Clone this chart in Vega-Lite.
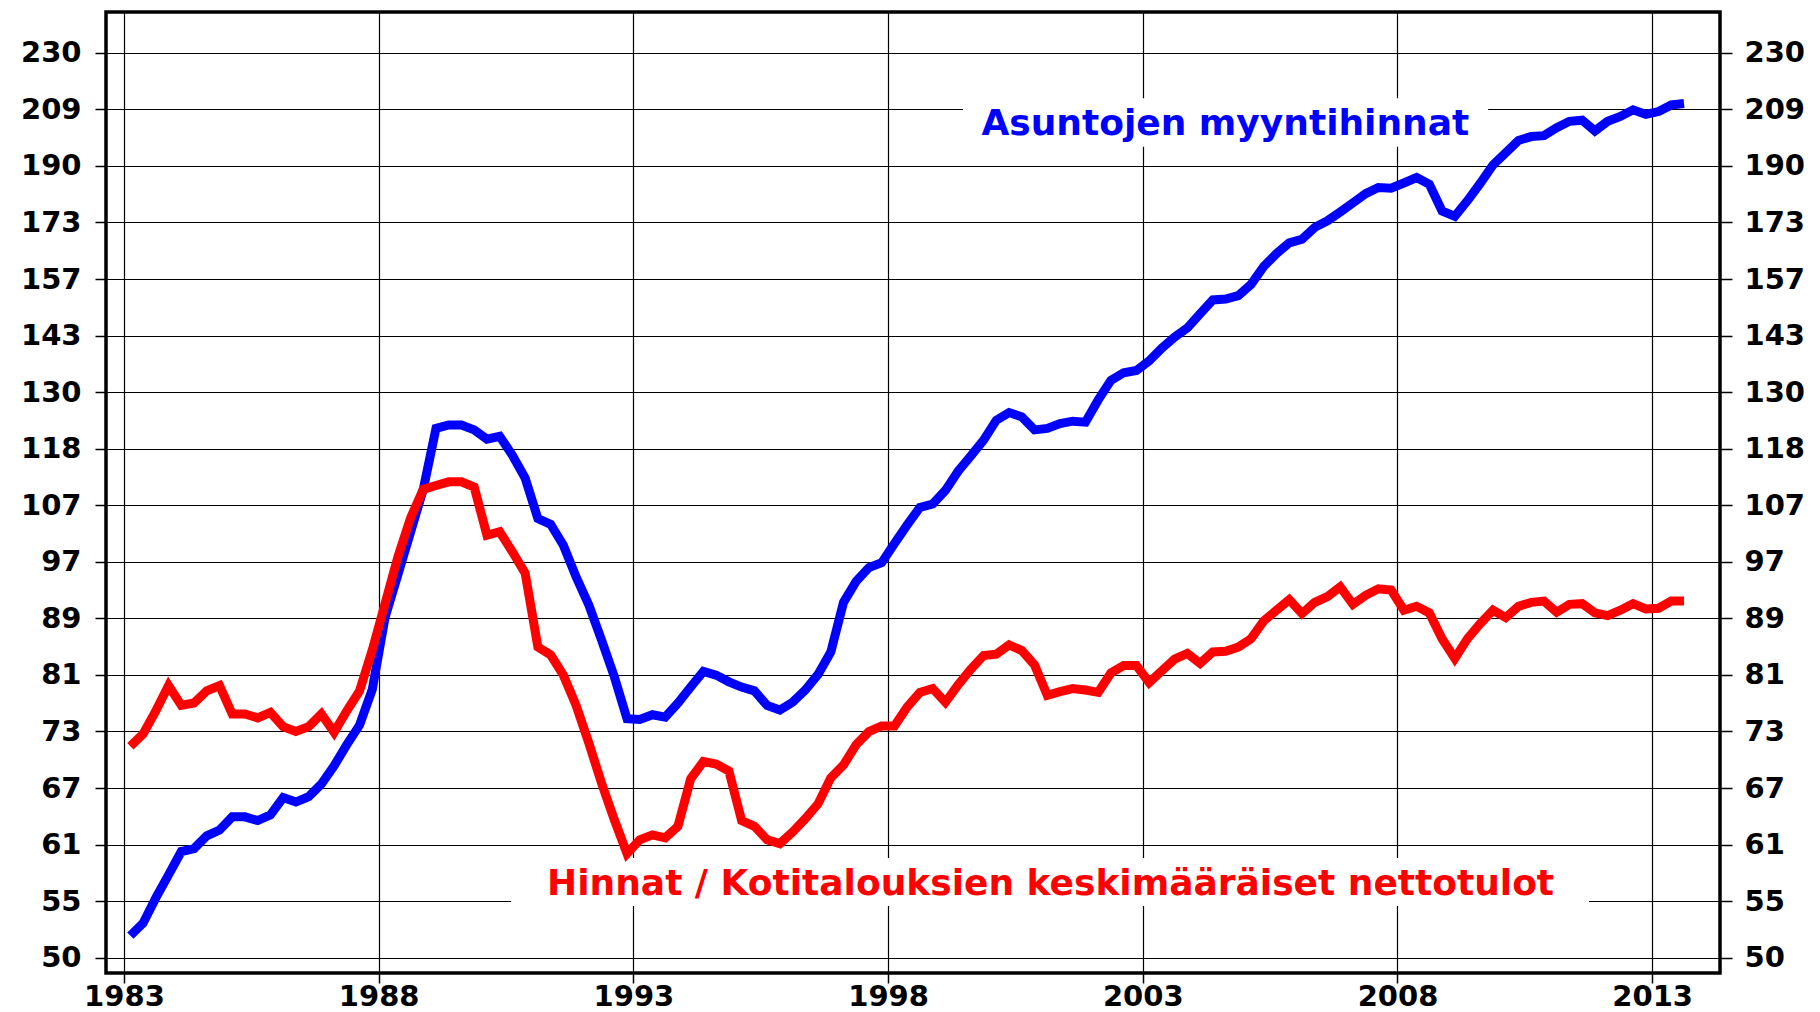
{
  "$schema": "https://vega.github.io/schema/vega-lite/v6.json",
  "width": 1614,
  "height": 961,
  "autosize": {"type": "none"},
  "padding": {"left": 106, "top": 12, "right": 100, "bottom": 39},
  "background": "white",
  "config": {
    "view": {"stroke": "#000000", "strokeWidth": 3.5},
    "font": "DejaVu Sans",
    "axis": {
      "domain": false,
      "gridColor": "#000000",
      "gridWidth": 1.2,
      "gridOpacity": 1,
      "tickColor": "#000000",
      "tickWidth": 1.5,
      "labelColor": "#000000",
      "labelFont": "DejaVu Sans",
      "labelFontSize": 29,
      "labelFontWeight": "bold",
      "labelOverlap": false,
      "labelFlush": false,
      "labelBound": false
    }
  },
  "datasets": {
    "hinnat": [
      {"t": 1983.125, "myynti": 51.9, "suhde": 71.4},
      {"t": 1983.375, "myynti": 53.0, "suhde": 72.9},
      {"t": 1983.625, "myynti": 55.3, "suhde": 75.8},
      {"t": 1983.875, "myynti": 57.5, "suhde": 79.1},
      {"t": 1984.125, "myynti": 59.8, "suhde": 76.5},
      {"t": 1984.375, "myynti": 60.1, "suhde": 76.8},
      {"t": 1984.625, "myynti": 61.4, "suhde": 78.4},
      {"t": 1984.875, "myynti": 62.0, "suhde": 79.1},
      {"t": 1985.125, "myynti": 63.4, "suhde": 75.4},
      {"t": 1985.375, "myynti": 63.4, "suhde": 75.4},
      {"t": 1985.625, "myynti": 63.0, "suhde": 74.9},
      {"t": 1985.875, "myynti": 63.6, "suhde": 75.6},
      {"t": 1986.125, "myynti": 65.5, "suhde": 73.8},
      {"t": 1986.375, "myynti": 65.0, "suhde": 73.2},
      {"t": 1986.625, "myynti": 65.6, "suhde": 73.8},
      {"t": 1986.875, "myynti": 67.0, "suhde": 75.4},
      {"t": 1987.125, "myynti": 69.1, "suhde": 73.1},
      {"t": 1987.375, "myynti": 71.6, "suhde": 75.8},
      {"t": 1987.625, "myynti": 74.0, "suhde": 78.4},
      {"t": 1987.875, "myynti": 78.6, "suhde": 84.0},
      {"t": 1988.125, "myynti": 88.7, "suhde": 90.8},
      {"t": 1988.375, "myynti": 95.3, "suhde": 98.2},
      {"t": 1988.625, "myynti": 102.4, "suhde": 104.9},
      {"t": 1988.875, "myynti": 110.1, "suhde": 110.1},
      {"t": 1989.125, "myynti": 122.0, "suhde": 110.8},
      {"t": 1989.375, "myynti": 122.7, "suhde": 111.5},
      {"t": 1989.625, "myynti": 122.7, "suhde": 111.5},
      {"t": 1989.875, "myynti": 121.7, "suhde": 110.5},
      {"t": 1990.125, "myynti": 119.8, "suhde": 101.9},
      {"t": 1990.375, "myynti": 120.4, "suhde": 102.5},
      {"t": 1990.625, "myynti": 116.6, "suhde": 99.1},
      {"t": 1990.875, "myynti": 112.2, "suhde": 95.6},
      {"t": 1991.125, "myynti": 104.8, "suhde": 84.4},
      {"t": 1991.375, "myynti": 103.8, "suhde": 83.3},
      {"t": 1991.625, "myynti": 100.2, "suhde": 80.5},
      {"t": 1991.875, "myynti": 95.0, "suhde": 76.5},
      {"t": 1992.125, "myynti": 90.6, "suhde": 71.8},
      {"t": 1992.375, "myynti": 85.4, "suhde": 67.1},
      {"t": 1992.625, "myynti": 80.3, "suhde": 63.1},
      {"t": 1992.875, "myynti": 74.8, "suhde": 59.6},
      {"t": 1993.125, "myynti": 74.7, "suhde": 61.0},
      {"t": 1993.375, "myynti": 75.3, "suhde": 61.5},
      {"t": 1993.625, "myynti": 75.0, "suhde": 61.2},
      {"t": 1993.875, "myynti": 76.8, "suhde": 62.4},
      {"t": 1994.125, "myynti": 78.9, "suhde": 67.6},
      {"t": 1994.375, "myynti": 81.0, "suhde": 69.6},
      {"t": 1994.625, "myynti": 80.5, "suhde": 69.3},
      {"t": 1994.875, "myynti": 79.6, "suhde": 68.5},
      {"t": 1995.125, "myynti": 78.9, "suhde": 63.0},
      {"t": 1995.375, "myynti": 78.4, "suhde": 62.4},
      {"t": 1995.625, "myynti": 76.5, "suhde": 61.0},
      {"t": 1995.875, "myynti": 75.9, "suhde": 60.6},
      {"t": 1996.125, "myynti": 76.9, "suhde": 61.8},
      {"t": 1996.375, "myynti": 78.5, "suhde": 63.2},
      {"t": 1996.625, "myynti": 80.6, "suhde": 64.8},
      {"t": 1996.875, "myynti": 83.7, "suhde": 67.7},
      {"t": 1997.125, "myynti": 91.0, "suhde": 69.2},
      {"t": 1997.375, "myynti": 94.3, "suhde": 71.6},
      {"t": 1997.625, "myynti": 96.5, "suhde": 73.2},
      {"t": 1997.875, "myynti": 97.3, "suhde": 73.9},
      {"t": 1998.125, "myynti": 100.5, "suhde": 73.9},
      {"t": 1998.375, "myynti": 103.7, "suhde": 76.3},
      {"t": 1998.625, "myynti": 106.8, "suhde": 78.2},
      {"t": 1998.875, "myynti": 107.4, "suhde": 78.7},
      {"t": 1999.125, "myynti": 109.9, "suhde": 76.9},
      {"t": 1999.375, "myynti": 113.5, "suhde": 79.2},
      {"t": 1999.625, "myynti": 116.5, "suhde": 81.3},
      {"t": 1999.875, "myynti": 119.6, "suhde": 83.2},
      {"t": 2000.125, "myynti": 123.7, "suhde": 83.4},
      {"t": 2000.375, "myynti": 125.3, "suhde": 84.7},
      {"t": 2000.625, "myynti": 124.4, "suhde": 83.9},
      {"t": 2000.875, "myynti": 121.7, "suhde": 81.9},
      {"t": 2001.125, "myynti": 122.0, "suhde": 77.8},
      {"t": 2001.375, "myynti": 123.0, "suhde": 78.3},
      {"t": 2001.625, "myynti": 123.5, "suhde": 78.7},
      {"t": 2001.875, "myynti": 123.3, "suhde": 78.5},
      {"t": 2002.125, "myynti": 128.0, "suhde": 78.2},
      {"t": 2002.375, "myynti": 132.3, "suhde": 80.8},
      {"t": 2002.625, "myynti": 134.0, "suhde": 81.8},
      {"t": 2002.875, "myynti": 134.5, "suhde": 81.8},
      {"t": 2003.125, "myynti": 136.7, "suhde": 79.5},
      {"t": 2003.375, "myynti": 139.7, "suhde": 81.1},
      {"t": 2003.625, "myynti": 142.3, "suhde": 82.7},
      {"t": 2003.875, "myynti": 144.5, "suhde": 83.5},
      {"t": 2004.125, "myynti": 148.0, "suhde": 82.1},
      {"t": 2004.375, "myynti": 151.5, "suhde": 83.7},
      {"t": 2004.625, "myynti": 151.7, "suhde": 83.8},
      {"t": 2004.875, "myynti": 152.6, "suhde": 84.4},
      {"t": 2005.125, "myynti": 155.5, "suhde": 85.6},
      {"t": 2005.375, "myynti": 160.3, "suhde": 88.2},
      {"t": 2005.625, "myynti": 163.8, "suhde": 89.8},
      {"t": 2005.875, "myynti": 166.8, "suhde": 91.4},
      {"t": 2006.125, "myynti": 167.8, "suhde": 89.3},
      {"t": 2006.375, "myynti": 171.2, "suhde": 91.0},
      {"t": 2006.625, "myynti": 173.1, "suhde": 91.9},
      {"t": 2006.875, "myynti": 175.7, "suhde": 93.4},
      {"t": 2007.125, "myynti": 178.4, "suhde": 90.7},
      {"t": 2007.375, "myynti": 181.2, "suhde": 92.1},
      {"t": 2007.625, "myynti": 183.1, "suhde": 93.1},
      {"t": 2007.875, "myynti": 182.9, "suhde": 92.9},
      {"t": 2008.125, "myynti": 184.5, "suhde": 89.8},
      {"t": 2008.375, "myynti": 186.2, "suhde": 90.4},
      {"t": 2008.625, "myynti": 184.1, "suhde": 89.4},
      {"t": 2008.875, "myynti": 176.0, "suhde": 85.6},
      {"t": 2009.125, "myynti": 174.4, "suhde": 82.8},
      {"t": 2009.375, "myynti": 179.1, "suhde": 85.6},
      {"t": 2009.625, "myynti": 184.4, "suhde": 87.8},
      {"t": 2009.875, "myynti": 190.2, "suhde": 89.8},
      {"t": 2010.125, "myynti": 194.1, "suhde": 88.7},
      {"t": 2010.375, "myynti": 198.2, "suhde": 90.4},
      {"t": 2010.625, "myynti": 199.5, "suhde": 91.0},
      {"t": 2010.875, "myynti": 199.8, "suhde": 91.2},
      {"t": 2011.125, "myynti": 202.5, "suhde": 89.5},
      {"t": 2011.375, "myynti": 204.7, "suhde": 90.7},
      {"t": 2011.625, "myynti": 205.1, "suhde": 90.8},
      {"t": 2011.875, "myynti": 201.4, "suhde": 89.4},
      {"t": 2012.125, "myynti": 204.7, "suhde": 89.0},
      {"t": 2012.375, "myynti": 206.4, "suhde": 89.8},
      {"t": 2012.625, "myynti": 208.7, "suhde": 90.8},
      {"t": 2012.875, "myynti": 207.1, "suhde": 90.0},
      {"t": 2013.125, "myynti": 208.1, "suhde": 90.1},
      {"t": 2013.375, "myynti": 210.4, "suhde": 91.2},
      {"t": 2013.625, "myynti": 210.9, "suhde": 91.2}
    ]
  },
  "resolve": {"axis": {"y": "independent"}},
  "layer": [
    {
      "description": "white backing behind the price label",
      "data": {"values": [{}]},
      "mark": {"type": "rect", "fill": "white", "stroke": null},
      "encoding": {
        "x": {"datum": 1999.47, "type": "quantitative", "scale": {"domain": [1982.647, 2014.331], "nice": false, "zero": false},
          "axis": {"title": null, "values": [1983, 1988, 1993, 1998, 2003, 2008, 2013], "format": "d", "grid": true, "tickSize": 10, "labelBaseline": "alphabetic", "labelPadding": 22}},
        "x2": {"datum": 2009.78},
        "y": {"datum": 212.8, "type": "quantitative", "scale": {"type": "log", "domain": [48.73, 246.1], "nice": false}, "axis": null},
        "y2": {"datum": 196.1}
      }
    },
    {
      "description": "white backing behind the ratio label",
      "data": {"values": [{}]},
      "mark": {"type": "rect", "fill": "white", "stroke": null},
      "encoding": {
        "x": {"datum": 1990.6, "type": "quantitative", "scale": {"domain": [1982.647, 2014.331], "nice": false, "zero": false},
          "axis": {"title": null, "values": [1983, 1988, 1993, 1998, 2003, 2008, 2013], "format": "d", "grid": true, "tickSize": 10, "labelBaseline": "alphabetic", "labelPadding": 22}},
        "x2": {"datum": 2011.76},
        "y": {"datum": 59.15, "type": "quantitative", "scale": {"type": "log", "domain": [48.73, 246.1], "nice": false}, "axis": null},
        "y2": {"datum": 54.55}
      }
    },
    {
      "data": {"name": "hinnat"},
      "mark": {"type": "line", "color": "#0000ff", "strokeWidth": 9, "strokeJoin": "miter"},
      "encoding": {
        "x": {
          "field": "t", "type": "quantitative",
          "scale": {"domain": [1982.647, 2014.331], "nice": false, "zero": false},
          "axis": {"title": null, "values": [1983, 1988, 1993, 1998, 2003, 2008, 2013], "format": "d", "grid": true, "tickSize": 10, "labelBaseline": "alphabetic", "labelPadding": 22}
        },
        "y": {
          "field": "myynti", "type": "quantitative",
          "scale": {"type": "log", "domain": [48.73, 246.1], "nice": false},
          "axis": {
            "title": null, "orient": "left", "grid": true, "tickSize": 11, "labelPadding": 14, "format": ".0f",
            "values": [50, 55, 60.5, 66.55, 73.205, 80.5255, 88.578, 97.436, 107.18, 117.9, 129.69, 142.66, 156.92, 172.61, 189.87, 208.86, 229.75]
          }
        }
      }
    },
    {
      "data": {"name": "hinnat"},
      "mark": {"type": "line", "color": "#ff0000", "strokeWidth": 9, "strokeJoin": "miter"},
      "encoding": {
        "x": {
          "field": "t", "type": "quantitative",
          "scale": {"domain": [1982.647, 2014.331], "nice": false, "zero": false},
          "axis": {"title": null, "values": [1983, 1988, 1993, 1998, 2003, 2008, 2013], "format": "d", "grid": true, "tickSize": 10, "labelBaseline": "alphabetic", "labelPadding": 22}
        },
        "y": {
          "field": "suhde", "type": "quantitative",
          "scale": {"type": "log", "domain": [48.73, 246.1], "nice": false},
          "axis": {
            "title": null, "orient": "right", "grid": false, "tickSize": 12, "labelPadding": 12, "format": ".0f",
            "values": [50, 55, 60.5, 66.55, 73.205, 80.5255, 88.578, 97.436, 107.18, 117.9, 129.69, 142.66, 156.92, 172.61, 189.87, 208.86, 229.75]
          }
        }
      }
    },
    {
      "data": {"values": [{}]},
      "mark": {"type": "text", "text": "Asuntojen myyntihinnat", "color": "#0000ff", "font": "DejaVu Sans", "fontSize": 36, "fontWeight": "bold", "align": "center", "baseline": "alphabetic"},
      "encoding": {
        "x": {"datum": 2004.62, "type": "quantitative", "scale": {"domain": [1982.647, 2014.331], "nice": false, "zero": false},
          "axis": {"title": null, "values": [1983, 1988, 1993, 1998, 2003, 2008, 2013], "format": "d", "grid": true, "tickSize": 10, "labelBaseline": "alphabetic", "labelPadding": 22}},
        "y": {"datum": 200.0, "type": "quantitative", "scale": {"type": "log", "domain": [48.73, 246.1], "nice": false}, "axis": null}
      }
    },
    {
      "data": {"values": [{}]},
      "mark": {"type": "text", "text": "Hinnat / Kotitalouksien keskimääräiset nettotulot", "color": "#ff0000", "font": "DejaVu Sans", "fontSize": 36, "fontWeight": "bold", "align": "center", "baseline": "alphabetic"},
      "encoding": {
        "x": {"datum": 2001.19, "type": "quantitative", "scale": {"domain": [1982.647, 2014.331], "nice": false, "zero": false},
          "axis": {"title": null, "values": [1983, 1988, 1993, 1998, 2003, 2008, 2013], "format": "d", "grid": true, "tickSize": 10, "labelBaseline": "alphabetic", "labelPadding": 22}},
        "y": {"datum": 55.57, "type": "quantitative", "scale": {"type": "log", "domain": [48.73, 246.1], "nice": false}, "axis": null}
      }
    }
  ]
}
